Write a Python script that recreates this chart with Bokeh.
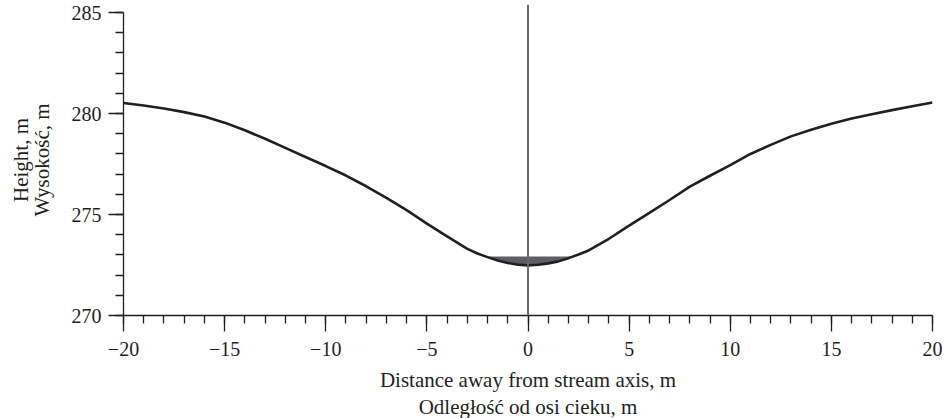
import numpy as np
from bokeh.plotting import figure
from bokeh.models import Range1d, SingleIntervalTicker, FixedTicker, Span, LinearAxis
from bokeh.embed import file_html
from bokeh.resources import INLINE

# ---- data ----
distance = [-20, -19, -18, -17, -16, -15, -14, -13, -12, -11, -10, -9, -8, -7, -6, -5, -4, -3,
            -2.5, -2, -1.5, -1, -0.5, 0, 0.5, 1, 1.5, 2, 2.5,
            3, 4, 5, 6, 7, 8, 9, 10, 11, 12, 13, 14, 15, 16, 17, 18, 19, 20]
height = [280.52, 280.4, 280.25, 280.07, 279.85, 279.55, 279.17, 278.75, 278.3, 277.85, 277.4,
          276.93, 276.4, 275.82, 275.22, 274.55, 273.92, 273.3,
          273.07, 272.89, 272.72, 272.6, 272.52, 272.48, 272.51, 272.58, 272.68, 272.84, 273.02,
          273.22, 273.8, 274.45, 275.08, 275.72, 276.38, 276.92, 277.45, 278.0, 278.45, 278.87,
          279.2, 279.5, 279.75, 279.97, 280.17, 280.36, 280.55]
water_level = 272.92
stream_axis = 0

x_ticks = [-20, -15, -10, -5, 0, 5, 10, 15, 20]
x_tick_labels = ["\u221220", "\u221215", "\u221210", "\u22125", "0", "5", "10", "15", "20"]
y_ticks = [270, 275, 280, 285]

x_label_en = "Distance away from stream axis, m"
x_label_pl = "Odległość od osi cieku, m"
y_label_en = "Height, m"
y_label_pl = "Wysokość, m"

INK = "#231f20"
FONT = "Liberation Serif"

p = figure(
    output_backend="svg", toolbar_location=None,
    frame_width=809, frame_height=311,
    min_border_left=123, min_border_right=16, min_border_top=4, min_border_bottom=103,
    x_range=Range1d(-20, 20), y_range=Range1d(270, 285.4),
)
p.outline_line_color = None
p.xgrid.visible = False
p.ygrid.visible = False
p.background_fill_color = "white"
p.border_fill_color = "white"

# water body
xs = np.linspace(min(distance), max(distance), 4001)
ys = np.interp(xs, distance, height)
mask = ys <= water_level
p.varea(x=xs[mask], y1=ys[mask], y2=water_level, fill_color="#5f5f63")

# ground profile
p.line(distance, height, line_color=INK, line_width=2.6)

# stream axis
p.add_layout(Span(location=stream_axis, dimension="height", line_color="#6a6a6a", line_width=2))


def style_axis(ax):
    ax.axis_line_color = INK
    ax.axis_line_width = 1.3
    ax.major_tick_line_color = INK
    ax.minor_tick_line_color = INK
    ax.major_tick_line_width = 1.3
    ax.minor_tick_line_width = 1.3
    ax.major_tick_in = 0
    ax.minor_tick_in = 0
    ax.major_label_text_font = FONT
    ax.major_label_text_font_size = "20px"
    ax.major_label_text_color = INK
    ax.axis_label_text_font = FONT
    ax.axis_label_text_font_size = "21px"
    ax.axis_label_text_font_style = "normal"
    ax.axis_label_text_color = INK


def label_only_axis(ax):
    ax.ticker = FixedTicker(ticks=[])
    ax.axis_line_color = None
    ax.major_tick_out = 0
    ax.minor_tick_out = 0
    ax.major_tick_line_color = None
    ax.minor_tick_line_color = None
    ax.major_label_standoff = 0
    ax.axis_label_text_font = FONT
    ax.axis_label_text_font_size = "21px"
    ax.axis_label_text_font_style = "normal"
    ax.axis_label_text_color = INK


xa = p.xaxis[0]
style_axis(xa)
xa.ticker = SingleIntervalTicker(interval=5, num_minor_ticks=5)
xa.major_label_overrides = {t: lab for t, lab in zip(x_ticks, x_tick_labels)}
xa.major_tick_out = 16
xa.minor_tick_out = 8
xa.major_label_standoff = 10
xa.axis_label = x_label_en
xa.axis_label_standoff = 9

xa2 = LinearAxis(axis_label=x_label_pl, axis_label_standoff=0)
label_only_axis(xa2)
p.add_layout(xa2, "below")

ya = p.yaxis[0]
style_axis(ya)
ya.ticker = SingleIntervalTicker(interval=5, num_minor_ticks=5)
ya.bounds = (min(y_ticks), max(y_ticks))
ya.major_tick_out = 15
ya.minor_tick_out = 8
ya.major_label_standoff = 7
ya.axis_label = y_label_pl
ya.axis_label_standoff = 15

ya2 = LinearAxis(axis_label=y_label_en, axis_label_standoff=-6)
label_only_axis(ya2)
p.add_layout(ya2, "left")

open("out.html", "w").write(file_html(p, INLINE))
